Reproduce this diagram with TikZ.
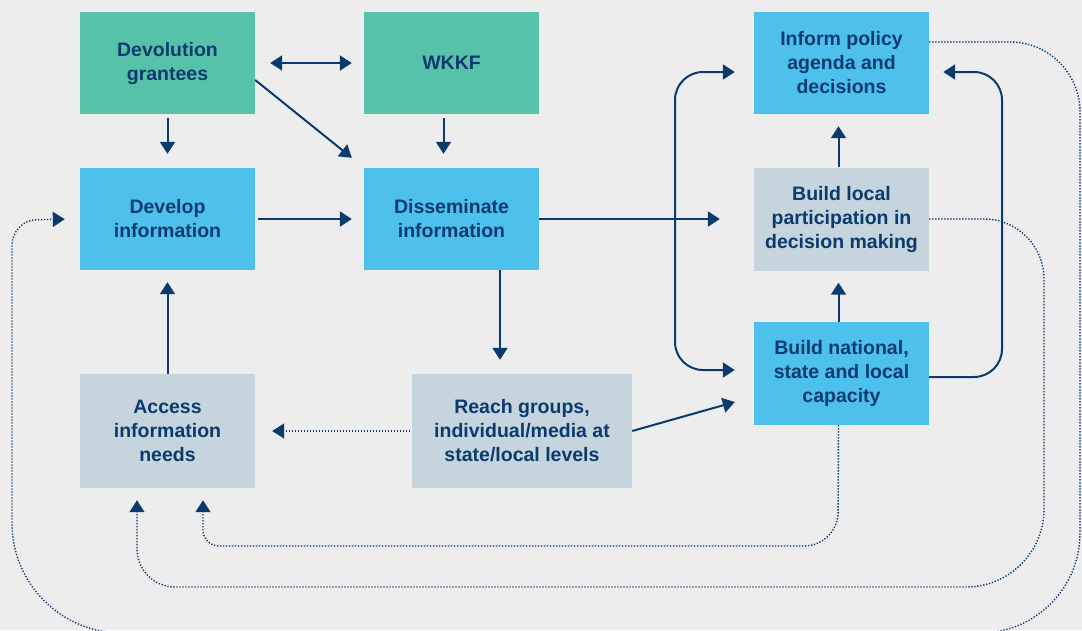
\documentclass[tikz,border=0pt]{standalone}
\usepackage{fontspec}
\setmainfont{Liberation Sans}
\usetikzlibrary{arrows.meta}
\definecolor{bgcol}{HTML}{EDEDED}
\definecolor{tealbox}{HTML}{56C2AA}
\definecolor{skybox}{HTML}{4EC0EC}
\definecolor{greybox}{HTML}{C6D5DD}
\definecolor{navy}{HTML}{0B3A6E}

\begin{document}
\begin{tikzpicture}[x=1pt, y=-1pt, >={Triangle[length=12pt, width=15pt]},
    box/.style={rectangle, inner sep=0pt, minimum width=175pt, minimum height=102pt, align=center, text=navy, font=\fontsize{19.5}{24}\selectfont\bfseries},
    link/.style={draw=navy, line width=2pt, ->},
    dotlink/.style={link, line width=1.4pt, dash pattern=on 1.3pt off 1.7pt}]
    \fill[bgcol] (0, 0) rectangle (1082, 630);
    \useasboundingbox (0, 0) rectangle (1082, 630);
    \clip (0, 0) rectangle (1082, 630);

    \node[box, fill=tealbox] (0) at (167.5, 63) {Devolution\\grantees};
    \node[box, fill=tealbox] (1) at (451.5, 63) {WKKF};
    \node[box, fill=skybox] (2) at (167.5, 219) {Develop\\information};
    \node[box, fill=skybox] (3) at (451.5, 219) {Disseminate\\information};
    \node[box, fill=greybox, minimum height=114pt] (4) at (167.5, 431) {Access\\information\\needs};
    \node[box, fill=greybox, minimum width=220pt, minimum height=114pt] (5) at (522, 431) {Reach groups,\\individual/media at\\state/local levels};
    \node[box, fill=skybox] (6) at (841.5, 63) {Inform policy\\agenda and\\decisions};
    \node[box, fill=greybox, minimum height=103pt] (7) at (841.5, 219) {Build local\\participation in\\decision making};
    \node[box, fill=skybox, minimum height=103pt] (8) at (841.5, 373.5) {Build national,\\state and local\\capacity};

    \draw[link, <->, shorten <=15pt, shorten >=12pt] (0) -- (1);
    \draw[link, shorten <=4pt, shorten >=14pt] (0) -- (2);
    \draw[link] ([yshift=-17pt]0.east) -- ([xshift=-12pt, yshift=10pt]3.north west);
    \draw[link, shorten <=4pt, shorten >=14pt] ([xshift=-8pt]1.south) -- ([xshift=-8pt]3.north);
    \draw[link, shorten <=3pt, shorten >=12pt] (2) -- (3);
    \draw[link, shorten >=34pt] (3) -- (7);
    \draw[link, shorten >=14pt] ([xshift=48.5pt]3.south) -- ([xshift=-22pt]5.north);
    \draw[dotlink, shorten <=2pt, shorten >=17pt] (5) -- (4);
    \draw[link, shorten >=12pt] (4) -- (2);
    \draw[link] (5.east) -- ([xshift=-19pt, yshift=-28.5pt]8.west);
    \draw[link, shorten >=12pt] ([xshift=-3pt]8.north) -- ([xshift=-3pt]7.south);
    \draw[link, shorten >=12pt] ([xshift=-3pt]7.north) -- ([xshift=-3pt]6.south);
    \draw[link, <->, rounded corners=28pt] ([xshift=-19pt, yshift=-9pt]6.west) -| (675, 220) |- ([xshift=-19pt, yshift=3.5pt]8.west);
    \draw[link, rounded corners=28pt] ([yshift=-3.5pt]8.east) -| (1002, 220) |- ([xshift=14pt, yshift=-9pt]6.east);

    % feedback loops
    \draw[dotlink, shorten >=12pt] ([xshift=-3pt]8.south) [rounded corners=34pt] -- (838, 546) [rounded corners=16pt] -- (203, 546) -- ([xshift=35.5pt]4.south);
    \draw[dotlink, shorten >=12pt] (7.east) [rounded corners=60pt] -- (1044, 219) [rounded corners=78pt] -- (1044, 587) [rounded corners=38pt] -- (137, 587) -- ([xshift=-30.5pt]4.south);
    \draw[dotlink, shorten >=15pt] ([yshift=21pt]6.east) [rounded corners=70pt] -- (1080, 42) [rounded corners=100pt] -- (1080, 633) [rounded corners=110pt] -- (12, 633) [rounded corners=25pt] -- (12, 220) -- (2.west);
\end{tikzpicture}
\end{document}
